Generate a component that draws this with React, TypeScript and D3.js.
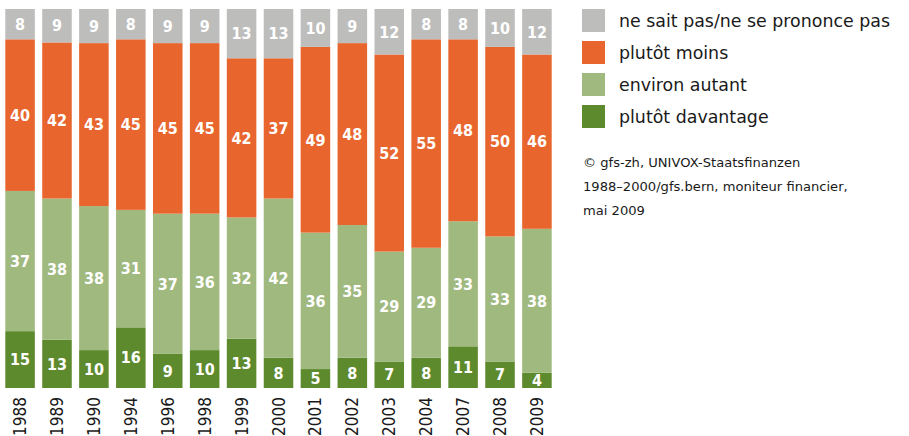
import React from "react";
import * as d3 from "d3";

const years = ["1988","1989","1990","1994","1996","1998","1999","2000","2001","2002","2003","2004","2007","2008","2009"];
const davantage = [15,13,10,16,9,10,13,8,5,8,7,8,11,7,4];
const autant = [37,38,38,31,37,36,32,42,36,35,29,29,33,33,38];
const moins = [40,42,43,45,45,45,42,37,49,48,52,55,48,50,46];
const nsp = [8,9,9,8,9,9,13,13,10,9,12,8,8,10,12];

const seriesKeys = ["davantage","autant","moins","nsp"];
const legendLabels = ["ne sait pas/ne se prononce pas","plutôt moins","environ autant","plutôt davantage"];
const legendKeys = ["nsp","moins","autant","davantage"];
const colors: Record<string,string> = {
  nsp: "#bdbdbc",
  moins: "#e8662d",
  autant: "#a0b97f",
  davantage: "#5e8a2e",
};
const sourceLines = ["© gfs-zh, UNIVOX-Staatsfinanzen","1988–2000/gfs.bern, moniteur financier,","mai 2009"];

const FONT = "'DejaVu Sans Condensed', 'DejaVu Sans', sans-serif";
const FONT2 = "'DejaVu Sans', sans-serif";

export default function App() {
  const W = 909, H = 436;
  const rows = years.map((y, i) => ({ year: y, davantage: davantage[i], autant: autant[i], moins: moins[i], nsp: nsp[i] }));
  const stack = d3.stack<any>().keys(seriesKeys).offset(d3.stackOffsetExpand);
  const layers = stack(rows);
  const x = d3.scaleBand().domain(years).range([9 - 3.7, 548 + 3.7]).paddingInner(0.2).paddingOuter(0);
  const y = d3.scaleLinear().domain([0, 1]).range([388, 9]);

  return (
    <svg width={W} height={H} style={{ position: "absolute", left: 0, top: 0, display: "block" }}>
      <rect width={W} height={H} fill="#fff" />
      {layers.map((layer) => (
        <g key={layer.key}>
          {layer.map((d, i) => {
            const x0 = x(years[i])!;
            const y0 = y(d[1]);
            const y1 = y(d[0]);
            const val = (rows[i] as any)[layer.key];
            return (
              <g key={i}>
                <rect x={x0} y={y0} width={x.bandwidth()} height={y1 - y0} fill={colors[layer.key]} />
                <text
                  x={x0 + x.bandwidth() / 2}
                  y={(y0 + y1) / 2}
                  dy="0.36em"
                  textAnchor="middle"
                  fill="#fff"
                  fontFamily={FONT}
                  fontWeight="bold"
                  fontSize={16}
                >
                  {val}
                </text>
              </g>
            );
          })}
        </g>
      ))}
      {years.map((yr) => (
        <text
          key={yr}
          transform={`translate(${x(yr)! + x.bandwidth() / 2 + 6},${436}) rotate(-90)`}
          fontFamily={FONT}
          fontSize={17}
          fill="#1a1a1a"
        >
          {yr}
        </text>
      ))}
      {legendKeys.map((k, i) => (
        <g key={k} transform={`translate(582,${9 + i * 32})`}>
          <rect width={23} height={23} fill={colors[k]} />
          <text x={37} y={18} fontFamily={FONT2} fontSize={17.4} fill="#1a1a1a">
            {legendLabels[i]}
          </text>
        </g>
      ))}
      {sourceLines.map((l, i) => (
        <text key={i} x={583} y={167 + i * 24} fontFamily={FONT2} fontSize={13.1} fill="#1a1a1a">
          {l}
        </text>
      ))}
    </svg>
  );
}
